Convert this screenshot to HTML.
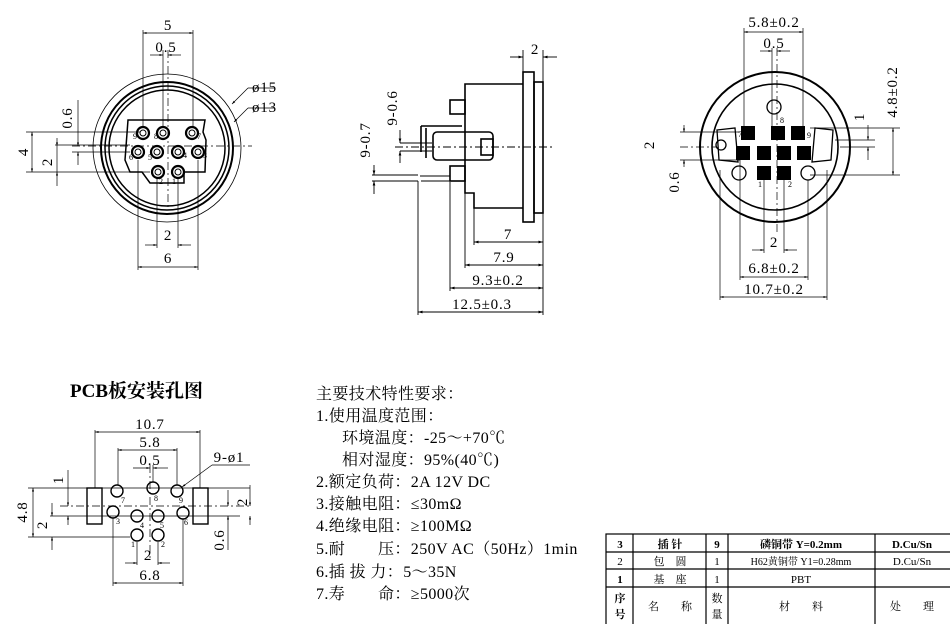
<!DOCTYPE html>
<html><head><meta charset="utf-8">
<style>
html,body{margin:0;padding:0;background:#fff;}
svg{display:block;}
text{font-family:"Liberation Serif","Noto Serif CJK SC",serif;fill:#000;}
</style></head>
<body>
<svg width="950" height="624" viewBox="0 0 950 624" xmlns="http://www.w3.org/2000/svg">
<defs>
<marker id="a" viewBox="0 0 10 10" refX="10" refY="5" markerWidth="7" markerHeight="5" orient="auto-start-reverse"><path d="M0,2 L10,5 L0,8z" fill="#000"/></marker>
</defs>
<g fill="none" stroke="#000">
<circle cx="167" cy="148" r="74" stroke-width="0.8"/>
<circle cx="167" cy="148" r="66" stroke-width="2"/>
<circle cx="167" cy="148" r="62" stroke-width="1.5"/>
<circle cx="167" cy="148" r="58" stroke-width="1.5"/>
<path d="M128,120 L205,120 L203,132 L206,140 L205,172 L184,172 L184,183 L150,183 L142,172 L130,172 L125,160 Z" stroke-width="1.5"/>
<g stroke-width="2.2">
<circle cx="143" cy="133" r="6"/><circle cx="163" cy="133" r="6"/><circle cx="192" cy="133" r="6"/>
<circle cx="138" cy="152" r="6"/><circle cx="157" cy="152" r="6"/><circle cx="178" cy="152" r="6"/><circle cx="198" cy="152" r="6"/>
<circle cx="158" cy="172" r="6"/><circle cx="178" cy="172" r="6"/>
</g>
<g stroke-width="1"><circle cx="143" cy="133" r="3"/><circle cx="163" cy="133" r="3"/><circle cx="192" cy="133" r="3"/>
<circle cx="138" cy="152" r="3"/><circle cx="157" cy="152" r="3"/><circle cx="178" cy="152" r="3"/><circle cx="198" cy="152" r="3"/>
<circle cx="158" cy="172" r="3"/><circle cx="178" cy="172" r="3"/></g>
<g stroke-width="0.7">
<line x1="143" y1="30" x2="143" y2="128"/><line x1="193" y1="30" x2="193" y2="128"/>
<line x1="143" y1="33" x2="193" y2="33" marker-start="url(#a)" marker-end="url(#a)"/>
<line x1="163" y1="50" x2="163" y2="128"/><line x1="168" y1="50" x2="168" y2="210" stroke-dasharray="8,3,2,3"/>
<line x1="150" y1="55" x2="163" y2="55" marker-end="url(#a)"/><line x1="181" y1="55" x2="168" y2="55" marker-end="url(#a)"/>
<line x1="26" y1="132" x2="140" y2="132"/><line x1="26" y1="172" x2="150" y2="172"/>
<line x1="32" y1="132" x2="32" y2="172" marker-start="url(#a)" marker-end="url(#a)"/>
<line x1="55" y1="145" x2="130" y2="145"/><line x1="72" y1="146" x2="252" y2="146" stroke-dasharray="8,3,2,3"/>
<line x1="72" y1="152" x2="130" y2="152"/>
<line x1="57" y1="138" x2="57" y2="146" marker-end="url(#a)"/><line x1="57" y1="186" x2="57" y2="172" marker-end="url(#a)"/>
<line x1="57" y1="146" x2="57" y2="172"/>
<line x1="78" y1="100" x2="78" y2="146" marker-end="url(#a)"/><line x1="78" y1="165" x2="78" y2="152" marker-end="url(#a)"/>
<line x1="138" y1="160" x2="138" y2="270"/><line x1="198" y1="160" x2="198" y2="270"/>
<line x1="157" y1="178" x2="157" y2="248"/><line x1="178" y1="178" x2="178" y2="248"/>
<line x1="145" y1="245" x2="157" y2="245" marker-end="url(#a)"/><line x1="191" y1="245" x2="178" y2="245" marker-end="url(#a)"/>
<line x1="138" y1="267" x2="198" y2="267" marker-start="url(#a)" marker-end="url(#a)"/>
<line x1="275" y1="88" x2="248" y2="88"/><line x1="248" y1="88" x2="232" y2="104" marker-end="url(#a)"/>
<line x1="275" y1="108" x2="248" y2="108"/><line x1="248" y1="108" x2="234" y2="122" marker-end="url(#a)"/>
</g>
<g stroke-width="1.6">
<rect x="523" y="72" width="11" height="150"/>
<rect x="534" y="82" width="9" height="131"/>
<path d="M523,84 L465,84 L465,193 L474,193 L474,208 L523,208"/>
<rect x="450" y="100" width="15" height="14"/>
<rect x="450" y="166" width="15" height="15"/>
<rect x="433" y="132" width="60" height="28" rx="4"/>
<rect x="481" y="139" width="12" height="16"/>
<path d="M421,126 L421,152 M426,128 L426,158 M421,126 L462,126"/>
</g>
<g stroke-width="0.9">
<line x1="420" y1="176" x2="450" y2="176"/><line x1="421" y1="181" x2="450" y2="181"/>
<line x1="395" y1="147" x2="555" y2="147" stroke-dasharray="8,3,2,3"/>
<line x1="523" y1="50" x2="523" y2="72"/><line x1="543" y1="50" x2="543" y2="315"/>
<line x1="510" y1="57" x2="523" y2="57" marker-end="url(#a)"/><line x1="557" y1="57" x2="543" y2="57" marker-end="url(#a)"/>
<line x1="474" y1="208" x2="474" y2="245"/><line x1="465" y1="193" x2="465" y2="268"/>
<line x1="450" y1="182" x2="450" y2="291"/><line x1="418" y1="181" x2="418" y2="315"/>
<line x1="474" y1="242" x2="543" y2="242" marker-start="url(#a)" marker-end="url(#a)"/>
<line x1="465" y1="265" x2="543" y2="265" marker-start="url(#a)" marker-end="url(#a)"/>
<line x1="450" y1="288" x2="543" y2="288" marker-start="url(#a)" marker-end="url(#a)"/>
<line x1="418" y1="312" x2="543" y2="312" marker-start="url(#a)" marker-end="url(#a)"/>
<line x1="400" y1="143" x2="432" y2="143"/><line x1="400" y1="151" x2="432" y2="151"/>
<line x1="400" y1="130" x2="400" y2="143" marker-end="url(#a)"/><line x1="400" y1="163" x2="400" y2="151" marker-end="url(#a)"/>
<line x1="372" y1="175" x2="418" y2="175"/><line x1="372" y1="181" x2="418" y2="181"/>
<line x1="374" y1="165" x2="374" y2="175" marker-end="url(#a)"/><line x1="374" y1="194" x2="374" y2="181" marker-end="url(#a)"/>
</g>
<circle cx="775" cy="147" r="75" stroke-width="2"/>
<circle cx="775" cy="147" r="63" stroke-width="1.6"/>
<g stroke-width="1.3">
<circle cx="774" cy="107" r="7"/><circle cx="739" cy="173" r="7"/><circle cx="808" cy="173" r="7"/>
<path d="M717,130 L735,128 L738,162 L719,160 Z"/><path d="M833,130 L815,128 L812,162 L831,160 Z"/>
<circle cx="721" cy="145" r="5"/>
</g>
<g fill="#000" stroke="none">
<rect x="741" y="126" width="14" height="14"/><rect x="771" y="126" width="14" height="14"/><rect x="791" y="126" width="14" height="14"/>
<rect x="736" y="146" width="14" height="14"/><rect x="757" y="146" width="14" height="14"/><rect x="777" y="146" width="14" height="14"/><rect x="797" y="146" width="14" height="14"/>
<rect x="757" y="166" width="14" height="14"/><rect x="777" y="166" width="14" height="14"/>
</g>
<g stroke-width="0.7">
<line x1="744" y1="28" x2="744" y2="128"/><line x1="803" y1="28" x2="803" y2="128"/>
<line x1="744" y1="32" x2="803" y2="32" marker-start="url(#a)" marker-end="url(#a)"/>
<line x1="772" y1="48" x2="772" y2="128"/><line x1="777" y1="48" x2="777" y2="235" stroke-dasharray="8,3,2,3"/>
<line x1="760" y1="51" x2="772" y2="51" marker-end="url(#a)"/><line x1="790" y1="51" x2="777" y2="51" marker-end="url(#a)"/>
<line x1="810" y1="128" x2="900" y2="128"/><line x1="810" y1="175" x2="900" y2="175"/>
<line x1="893" y1="128" x2="893" y2="175" marker-start="url(#a)" marker-end="url(#a)"/>
<line x1="868" y1="125" x2="868" y2="140" marker-end="url(#a)"/><line x1="868" y1="160" x2="868" y2="147" marker-end="url(#a)"/>
<line x1="840" y1="147" x2="875" y2="147"/><line x1="835" y1="140" x2="875" y2="140"/>
<line x1="680" y1="132" x2="740" y2="132"/><line x1="680" y1="160" x2="740" y2="160"/><line x1="680" y1="147" x2="717" y2="147" stroke-dasharray="8,3,2,3"/>
<line x1="684" y1="125" x2="684" y2="132" marker-end="url(#a)"/><line x1="684" y1="167" x2="684" y2="160" marker-end="url(#a)"/>
<line x1="764" y1="180" x2="764" y2="253"/><line x1="784" y1="180" x2="784" y2="253"/>
<line x1="752" y1="250" x2="764" y2="250" marker-end="url(#a)"/><line x1="797" y1="250" x2="784" y2="250" marker-end="url(#a)"/>
<line x1="740" y1="160" x2="740" y2="280"/><line x1="808" y1="180" x2="808" y2="280"/>
<line x1="740" y1="277" x2="808" y2="277" marker-start="url(#a)" marker-end="url(#a)"/>
<line x1="720" y1="170" x2="720" y2="300"/><line x1="827" y1="170" x2="827" y2="300"/>
<line x1="720" y1="297" x2="827" y2="297" marker-start="url(#a)" marker-end="url(#a)"/>
</g>
<g stroke-width="1.4">
<rect x="87" y="488" width="15" height="36"/><rect x="193" y="488" width="15" height="36"/>
<circle cx="117" cy="491" r="6"/><circle cx="153" cy="488" r="6"/><circle cx="177" cy="491" r="6"/>
<circle cx="113" cy="512" r="6"/><circle cx="137" cy="516" r="6"/><circle cx="158" cy="516" r="6"/><circle cx="183" cy="513" r="6"/>
<circle cx="137" cy="535" r="6"/><circle cx="158" cy="535" r="6"/>
</g>
<g stroke-width="0.7">
<line x1="95" y1="430" x2="95" y2="488"/><line x1="200" y1="430" x2="200" y2="488"/>
<line x1="95" y1="432" x2="200" y2="432" marker-start="url(#a)" marker-end="url(#a)"/>
<line x1="118" y1="448" x2="118" y2="485"/><line x1="177" y1="448" x2="177" y2="485"/>
<line x1="118" y1="450" x2="177" y2="450" marker-start="url(#a)" marker-end="url(#a)"/>
<line x1="150" y1="465" x2="150" y2="560" stroke-dasharray="8,3,2,3"/><line x1="153" y1="465" x2="153" y2="482"/>
<line x1="133" y1="468" x2="150" y2="468" marker-end="url(#a)"/><line x1="168" y1="468" x2="153" y2="468" marker-end="url(#a)"/>
<line x1="250" y1="465" x2="212" y2="465"/><line x1="212" y1="465" x2="182" y2="487" marker-end="url(#a)"/>
<line x1="28" y1="488" x2="250" y2="488"/><line x1="60" y1="506" x2="250" y2="506" stroke-dasharray="8,3,2,3"/>
<line x1="50" y1="516" x2="240" y2="516"/><line x1="28" y1="537" x2="130" y2="537"/>
<line x1="33" y1="488" x2="33" y2="537" marker-start="url(#a)" marker-end="url(#a)"/>
<line x1="52" y1="503" x2="52" y2="516" marker-end="url(#a)"/><line x1="52" y1="550" x2="52" y2="537" marker-end="url(#a)"/>
<line x1="68" y1="470" x2="68" y2="506" marker-end="url(#a)"/><line x1="68" y1="525" x2="68" y2="516" marker-end="url(#a)"/>
<line x1="250" y1="485" x2="250" y2="506" marker-end="url(#a)"/><line x1="250" y1="525" x2="250" y2="516" marker-end="url(#a)"/>
<line x1="228" y1="490" x2="228" y2="506" marker-end="url(#a)"/><line x1="228" y1="550" x2="228" y2="516" marker-end="url(#a)"/>
<line x1="137" y1="542" x2="137" y2="565"/><line x1="158" y1="542" x2="158" y2="565"/>
<line x1="125" y1="563" x2="137" y2="563" marker-end="url(#a)"/><line x1="170" y1="563" x2="158" y2="563" marker-end="url(#a)"/>
<line x1="113" y1="518" x2="113" y2="586"/><line x1="183" y1="519" x2="183" y2="586"/>
<line x1="113" y1="583" x2="183" y2="583" marker-start="url(#a)" marker-end="url(#a)"/>
</g>
<g stroke-width="1.2">
<rect x="606" y="534" width="350" height="92"/>
<line x1="606" y1="552" x2="950" y2="552"/><line x1="606" y1="569" x2="950" y2="569"/><line x1="606" y1="587" x2="950" y2="587"/>
<line x1="633" y1="534" x2="633" y2="624"/><line x1="706" y1="534" x2="706" y2="624"/><line x1="728" y1="534" x2="728" y2="624"/><line x1="875" y1="534" x2="875" y2="624"/>
</g>
</g>
<g font-size="15" text-anchor="middle" letter-spacing="0.8">
<text x="168" y="30">5</text><text x="166" y="52">0.5</text>
<text x="252" y="92" text-anchor="start">ø15</text>
<text x="252" y="112" text-anchor="start">ø13</text>
<text transform="translate(28,152) rotate(-90)">4</text>
<text transform="translate(52,162) rotate(-90)">2</text>
<text transform="translate(72,118) rotate(-90)">0.6</text>
<text x="168" y="240">2</text><text x="168" y="263">6</text>
<text x="535" y="54">2</text>
<text transform="translate(397,108) rotate(-90)">9-0.6</text>
<text transform="translate(370,140) rotate(-90)">9-0.7</text>
<text x="508" y="239">7</text><text x="504" y="262">7.9</text>
<text x="498" y="285">9.3±0.2</text><text x="482" y="309">12.5±0.3</text>
<text x="774" y="27">5.8±0.2</text><text x="774" y="48">0.5</text>
<text transform="translate(897,92) rotate(-90)">4.8±0.2</text>
<text transform="translate(864,117) rotate(-90)">1</text>
<text transform="translate(654,145) rotate(-90)">2</text>
<text transform="translate(679,182) rotate(-90)">0.6</text>
<text x="774" y="247">2</text><text x="774" y="273">6.8±0.2</text><text x="774" y="294">10.7±0.2</text>
<text x="150" y="429">10.7</text><text x="150" y="447">5.8</text><text x="150" y="465">0.5</text>
<text x="229" y="462">9-ø1</text>
<text transform="translate(27,512) rotate(-90)">4.8</text>
<text transform="translate(47,525) rotate(-90)">2</text>
<text transform="translate(63,480) rotate(-90)">1</text>
<text transform="translate(247,502) rotate(-90)">2</text>
<text transform="translate(224,540) rotate(-90)">0.6</text>
<text x="148" y="560">2</text><text x="150" y="580">6.8</text>
</g>
<g font-size="8" text-anchor="middle">
<text x="135" y="139">9</text><text x="156" y="139">8</text><text x="199" y="139">7</text>
<text x="131" y="160">6</text><text x="150" y="160">5</text><text x="185" y="158">4</text><text x="205" y="158">3</text>
<text x="161" y="184">2</text><text x="174" y="184">1</text>
<text x="782" y="123">8</text><text x="740" y="137">7</text><text x="809" y="138">9</text>
<text x="760" y="187">1</text><text x="790" y="187">2</text>
<text x="123" y="503">7</text><text x="156" y="501">8</text><text x="181" y="503">9</text>
<text x="118" y="524">3</text><text x="142" y="528">4</text><text x="162" y="528">5</text><text x="186" y="525">6</text>
<text x="133" y="547">1</text><text x="163" y="547">2</text>
</g>
<text x="70" y="397" font-size="19" font-weight="bold">PCB板安装孔图</text>
<g font-size="16" letter-spacing="0.4">
<text x="316" y="399">主要技术特性要求：</text>
<text x="316" y="421">1.使用温度范围：</text>
<text x="342" y="443">环境温度：-25～+70℃</text>
<text x="342" y="465">相对湿度：95%(40℃)</text>
<text x="316" y="487">2.额定负荷：2A 12V DC</text>
<text x="316" y="509">3.接触电阻：≤30mΩ</text>
<text x="316" y="531">4.绝缘电阻：≥100MΩ</text>
<text x="316" y="554">5.耐　　压：250V AC（50Hz）1min</text>
<text x="316" y="577">6.插 拔 力：5～35N</text>
<text x="316" y="599">7.寿　　命：≥5000次</text>
</g>
<g font-size="11" text-anchor="middle">
<text x="620" y="548" font-weight="bold">3</text><text x="670" y="548" font-weight="bold">插 针</text><text x="717" y="548" font-weight="bold">9</text><text x="801" y="548" font-weight="bold">磷铜带 Y=0.2mm</text><text x="912" y="548" font-weight="bold">D.Cu/Sn</text>
<text x="620" y="565">2</text><text x="670" y="565">包　圆</text><text x="717" y="565">1</text><text x="801" y="565" font-size="10">H62黄铜带 Y1=0.28mm</text><text x="912" y="565">D.Cu/Sn</text>
<text x="620" y="583" font-weight="bold">1</text><text x="670" y="583">基　座</text><text x="717" y="583">1</text><text x="801" y="583">PBT</text>
<text x="620" y="602" font-weight="bold">序</text><text x="620" y="618" font-weight="bold">号</text>
<text x="670" y="610">名　　称</text>
<text x="717" y="602">数</text><text x="717" y="618">量</text>
<text x="801" y="610">材　　料</text><text x="912" y="610">处　　理</text>
</g>
</svg>
</body></html>
